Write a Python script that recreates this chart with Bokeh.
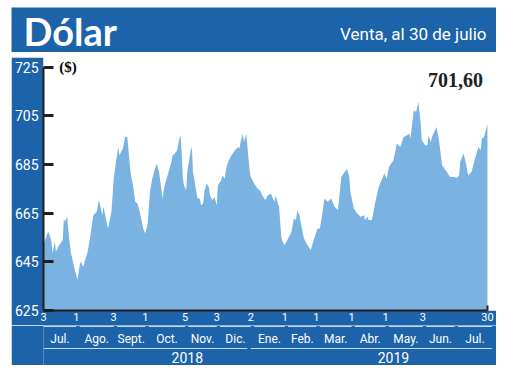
from bokeh.plotting import figure
from bokeh.models import Range1d, LinearAxis, FixedTicker, Spacer, Label
from bokeh.layouts import row, column
from bokeh.core.properties import value
from bokeh.embed import file_html
from bokeh.resources import INLINE

# ---------------- data ----------------
start_date = "2018-07-03"   # day 0
day_offsets = [0, 4, 5, 7, 8, 10, 11, 13, 16, 17,
               18, 19, 21, 22, 24, 26, 28, 30, 32, 33,
               35, 36, 39, 41, 44, 47, 49, 50, 52, 53,
               55, 57, 60, 62, 64, 66, 67, 70, 72, 74,
               76, 77, 79, 81, 83, 85, 88, 90, 92, 94,
               96, 98, 100, 102, 104, 105, 107, 110, 113, 114,
               116, 118, 120, 121, 122, 123, 124, 126, 127, 130,
               131, 132, 134, 136, 138, 139, 141, 142, 144, 146,
               147, 149, 151, 153, 154, 157, 158, 160, 161, 163,
               166, 169, 172, 173, 174, 176, 177, 179, 182, 183,
               186, 189, 192, 193, 195, 196, 198, 201, 202, 204,
               205, 207, 208, 210, 211, 213, 216, 219, 221, 223,
               224, 226, 227, 230, 233, 236, 239, 242, 244, 246,
               248, 251, 254, 257, 260, 263, 265, 268, 270, 271,
               274, 277, 280, 283, 284, 286, 287, 290, 293, 296,
               299, 301, 303, 305, 307, 309, 312, 315, 318, 321,
               323, 324, 327, 329, 331, 333, 334, 337, 339, 340,
               342, 343, 345, 347, 349, 352, 353, 356, 359, 362,
               365, 367, 368, 371, 373, 375, 378, 381, 384, 386,
               387, 389, 392]
usd_clp = [652.0, 657.4, 656.7, 653.3, 648.5, 653.3, 649.2, 651.2, 653.3, 654.0,
           662.8, 661.5, 663.5, 657.4, 649.2, 645.1, 641.0, 637.6, 643.7, 645.1,
           643.0, 644.4, 649.2, 654.6, 664.2, 665.6, 670.4, 668.3, 664.2, 667.6,
           662.8, 658.7, 665.6, 679.2, 686.1, 692.2, 688.8, 691.5, 696.3, 696.3,
           686.1, 681.3, 676.5, 669.7, 669.0, 665.6, 658.7, 656.7, 660.8, 673.8,
           679.2, 682.7, 685.4, 682.0, 675.1, 671.0, 676.5, 681.3, 686.1, 688.8,
           689.5, 690.9, 695.6, 697.0, 690.2, 679.9, 676.5, 674.4, 682.0, 690.9,
           692.2, 682.0, 676.5, 671.0, 671.0, 668.3, 669.0, 673.8, 677.2, 675.8,
           672.4, 670.4, 671.7, 668.3, 676.5, 678.6, 680.6, 679.2, 682.7, 686.1,
           688.8, 690.9, 692.2, 691.5, 694.3, 697.7, 694.3, 697.7, 682.7, 679.9,
           677.2, 675.1, 673.8, 672.4, 671.0, 670.4, 672.4, 673.1, 671.7, 669.7,
           672.4, 669.0, 667.6, 655.3, 653.3, 651.9, 654.6, 657.4, 662.8, 662.2,
           666.3, 664.2, 661.5, 654.6, 651.9, 649.9, 654.6, 658.7, 658.7, 664.2,
           671.0, 669.7, 671.0, 667.6, 666.3, 679.9, 681.3, 683.3, 679.9, 673.8,
           666.9, 664.9, 663.5, 664.2, 662.2, 663.5, 662.2, 662.2, 669.7, 675.8,
           679.2, 681.3, 679.2, 684.0, 685.4, 686.8, 693.6, 692.2, 696.3, 697.0,
           697.7, 695.6, 707.3, 706.6, 710.7, 702.5, 695.0, 692.9, 692.9, 697.0,
           694.3, 696.3, 698.4, 700.4, 695.6, 684.7, 684.0, 682.0, 679.9, 679.9,
           679.5, 680.6, 686.1, 689.5, 685.4, 680.6, 682.0, 687.4, 692.2, 690.9,
           695.6, 696.3, 701.6]

tick_days = [0, 29, 62, 90, 125, 153, 183, 213, 241, 272, 302, 335, 392]
tick_labels = ["3", "1", "3", "1", "5", "3", "2", "1", "1", "1", "1", "3", "30"]
month_starts = [0, 29, 62, 90, 125, 153, 183, 213, 241, 272, 302, 335, 363]
month_names = ["Jul.", "Ago.", "Sept.", "Oct.", "Nov.", "Dic.", "Ene.", "Feb.",
               "Mar.", "Abr.", "May.", "Jun.", "Jul."]
period_end = 396
years = ["2018", "2019"]
year_starts = [0, 183]
year_ends = [180, 396]
year_label_days = [127, 309]
y_ticks = [625, 645, 665, 685, 705, 725]

title = "Dólar"
subtitle = "Venta, al 30 de julio"
unit = "($)"

# ---------------- style ----------------
BLUE = "#1d63a9"
FILL = "#7ab3e1"
DARK = "#231f20"
NARROW = "Roboto"
SERIF = "Liberation Serif"
LEFT = 31          # width of the blue strip left of the plot frame
W = 485

assert len(day_offsets) == len(usd_clp)

# ---------------- header ----------------
h = figure(width=W, height=45, x_range=Range1d(0, W), y_range=Range1d(0, 45),
           output_backend="svg", toolbar_location=None,
           x_axis_location=None, y_axis_location=None,
           min_border_left=0, min_border_right=0, min_border_top=0, min_border_bottom=0,
           background_fill_color=BLUE, border_fill_color=BLUE,
           outline_line_color=None)
h.grid.visible = False
h.text(x=[12], y=[22], text=[title], text_font=value("Lato"), text_font_style="bold",
       text_font_size=value("38px"), text_color="white",
       text_align="left", text_baseline="middle")
h.text(x=[475], y=[19], text=[subtitle], text_font=value(NARROW),
       text_font_size=value("17px"), text_color="white",
       text_align="right", text_baseline="middle")

# ---------------- main plot ----------------
p = figure(width=W, height=268, x_range=Range1d(0, 400), y_range=Range1d(625, 729),
           output_backend="svg", toolbar_location=None,
           x_axis_location=None, y_axis_location=None,
           min_border_left=LEFT, min_border_right=0, min_border_top=0, min_border_bottom=15,
           border_fill_color=BLUE, background_fill_color="white",
           outline_line_color=None)
p.grid.visible = False
p.varea(x=day_offsets, y1=625, y2=usd_clp, fill_color=FILL)

yaxis = LinearAxis(ticker=FixedTicker(ticks=y_ticks), bounds=(y_ticks[0], y_ticks[-1]),
                   axis_line_color=DARK, axis_line_width=2,
                   major_tick_in=10, major_tick_out=0, major_tick_line_width=3,
                   major_tick_line_color=DARK, minor_tick_line_color=None,
                   major_label_standoff=5, major_label_text_color="white",
                   major_label_text_font=NARROW, major_label_text_font_size="14px")
p.add_layout(yaxis, "left")

xaxis = LinearAxis(ticker=FixedTicker(ticks=tick_days, minor_ticks=[tick_days[-1]]),
                   bounds=(tick_days[0], tick_days[-1]),
                   major_label_overrides={d: l for d, l in zip(tick_days, tick_labels)},
                   axis_line_color=DARK, axis_line_width=2,
                   major_tick_line_color=None, major_tick_in=0, major_tick_out=0,
                   minor_tick_in=5, minor_tick_out=0, minor_tick_line_width=2,
                   minor_tick_line_color=DARK,
                   major_label_standoff=2, major_label_text_color="white",
                   major_label_text_font=NARROW, major_label_text_font_size="11px")
p.add_layout(xaxis, "below")

p.add_layout(Label(x=p.x_range.start + 14, y=728.3, text=unit, text_font=SERIF,
                   text_font_style="bold", text_font_size="15px", text_color="black",
                   text_align="left", text_baseline="top"))
p.add_layout(Label(x=day_offsets[-1] - 4, y=usd_clp[-1] + 18,
                   text=f"{usd_clp[-1]:.2f}".replace(".", ","), text_font=SERIF,
                   text_font_style="bold", text_font_size="20px", text_color="#222222",
                   text_align="right", text_baseline="middle"))

# ---------------- bottom band (months / years) ----------------
b = figure(width=W, height=40, x_range=p.x_range, y_range=Range1d(0, 40),
           output_backend="svg", toolbar_location=None,
           x_axis_location=None, y_axis_location=None,
           min_border_left=LEFT, min_border_right=0, min_border_top=0, min_border_bottom=0,
           border_fill_color=BLUE, background_fill_color=BLUE, outline_line_color=None)
b.grid.visible = False
seg_x0 = [month_starts[0]] + [s + 3 for s in month_starts[1:]]
seg_x1 = month_starts[1:] + [period_end]
b.segment(x0=seg_x0, x1=seg_x1, y0=39, y1=39, line_color="#c9dcef", line_width=1)
mid = [(a + c) / 2 for a, c in zip(seg_x0, seg_x1)]
b.text(x=mid, y=[27] * len(mid), text=month_names, text_font=value(NARROW),
       text_font_size=value("12px"), text_color="white",
       text_align="center", text_baseline="middle")
b.segment(x0=year_starts, x1=year_ends, y0=17, y1=17, line_color="#c9dcef", line_width=1)
b.text(x=year_label_days, y=[8, 8], text=years, text_font=value(NARROW),
       text_font_size=value("14px"), text_color="white",
       text_align="center", text_baseline="middle")

layout = column(Spacer(width=W + 11, height=7),
                row(Spacer(width=11, height=45), h),
                Spacer(width=W + 11, height=5),
                row(Spacer(width=11, height=308), column(p, b)))

open("out.html", "w").write(file_html(layout, INLINE))
